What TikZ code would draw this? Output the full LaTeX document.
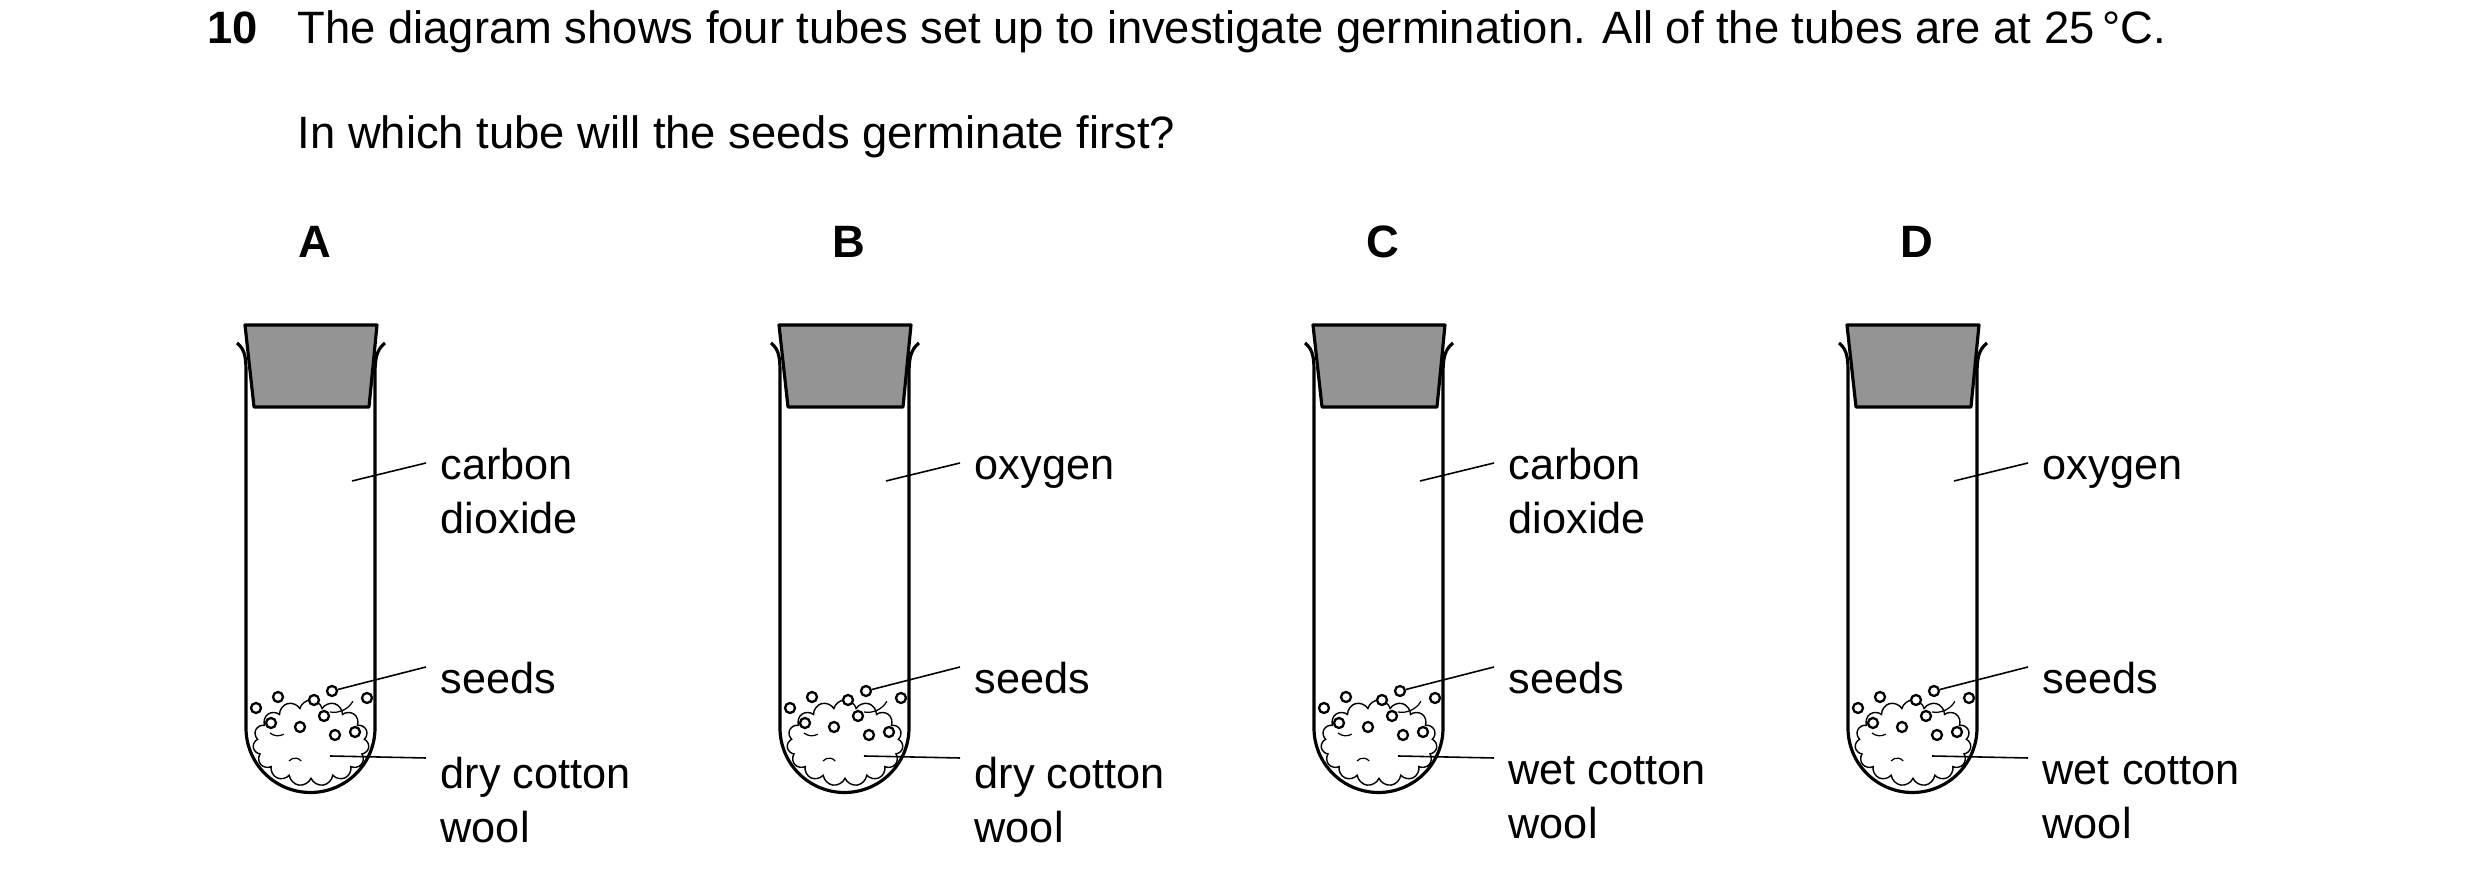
\documentclass[tikz,border=0pt]{standalone}
\usepackage{fontspec}
\setmainfont{Liberation Sans}
\usetikzlibrary{positioning,shapes.symbols}

\begin{document}
\begin{tikzpicture}[x=0.01cm, y=-0.01cm,
    txt/.style={font=\fontsize{12.3}{15.4}\selectfont, inner sep=0pt},
    head/.style={txt, font=\fontsize{12.9}{15.4}\selectfont},
    lbl/.style={txt, anchor=west, align=left},
    wall/.style={line width=0.9pt, line join=round},
    pointer/.style={line width=0.45pt},
    seed/.style={circle, draw, line width=0.65pt, minimum size=0.1cm, inner sep=0pt}]
    \useasboundingbox (0,0) rectangle (2480,880);
    \def\d{534}

    \node(num) [head, anchor=base west, font=\fontsize{12.9}{15.4}\selectfont\bfseries] at (207,44) {10};
    \node(q1) [head, anchor=base west] at (297,44) {The diagram shows four tubes set up to investigate germination. All of the tubes are at 25\,\textdegree C.};
    \node(q2) [head, anchor=base west] at (297,149) {In which tube will the seeds germinate first?};

    \foreach \n/\gas/\wool [count=\i from 0] in {A/{carbon\\dioxide}/dry, B/{\vphantom{b}oxygen}/dry, C/{carbon\\dioxide}/wet, D/{\vphantom{b}oxygen}/wet}{
        \begin{scope}[xshift=\i*\d*0.01cm]
            \node(t\n) [head, font=\fontsize{12.9}{15.4}\selectfont\bfseries] at (315,242) {\n};
            % stopper and glass
            \draw[wall, fill=black!42] (245,325) -- (377,325) -- (369,407) -- (254,407) -- cycle;
            \draw[wall] (237,343) .. controls (246,350) and (246,360) .. (246,375) -- (246,728)
                arc[start angle=180, end angle=0, radius=64.5] -- (375,375)
                .. controls (375,360) and (376,350) .. (385,343);
            % cotton wool
            \node(w\n) [cloud, cloud puffs=15, draw, line width=0.4pt, minimum width=1.16cm, minimum height=0.86cm, inner sep=0pt] at (311,743) {};
            \draw[line width=0.35pt] (289,761) arc[start angle=220, end angle=320, radius=8];
            \draw[line width=0.35pt] (330,712) arc[start angle=100, end angle=30, radius=22];
            \draw[line width=0.35pt] (270,733) arc[start angle=130, end angle=60, radius=12];
            % seeds
            \foreach \sx/\sy [count=\k] in {256/708, 278/697, 314/700, 332/691, 367/698, 271/723, 300/727, 324/716, 335/735, 355/732}
                \node(s\n\k) [seed, fill=white] at (\sx,\sy) {};
            % labels
            \node(g\n) [lbl, anchor=north west] at (440,447) {\gas};
            \node(e\n) [lbl, anchor=base west] at (440,694) {seeds};
            \node(c\n) [lbl, anchor=north west] at (440,756) {\wool{} cotton\\wool};
            \coordinate (gp\n) at (352,481);
            \coordinate (wp\n) at (330,756);
            \draw[pointer] (gp\n) -- (426,463);
            \draw[pointer] (s\n4) -- (426,667);
            \draw[pointer] (wp\n) -- (426,758);
        \end{scope}
    }
\end{tikzpicture}
\end{document}
